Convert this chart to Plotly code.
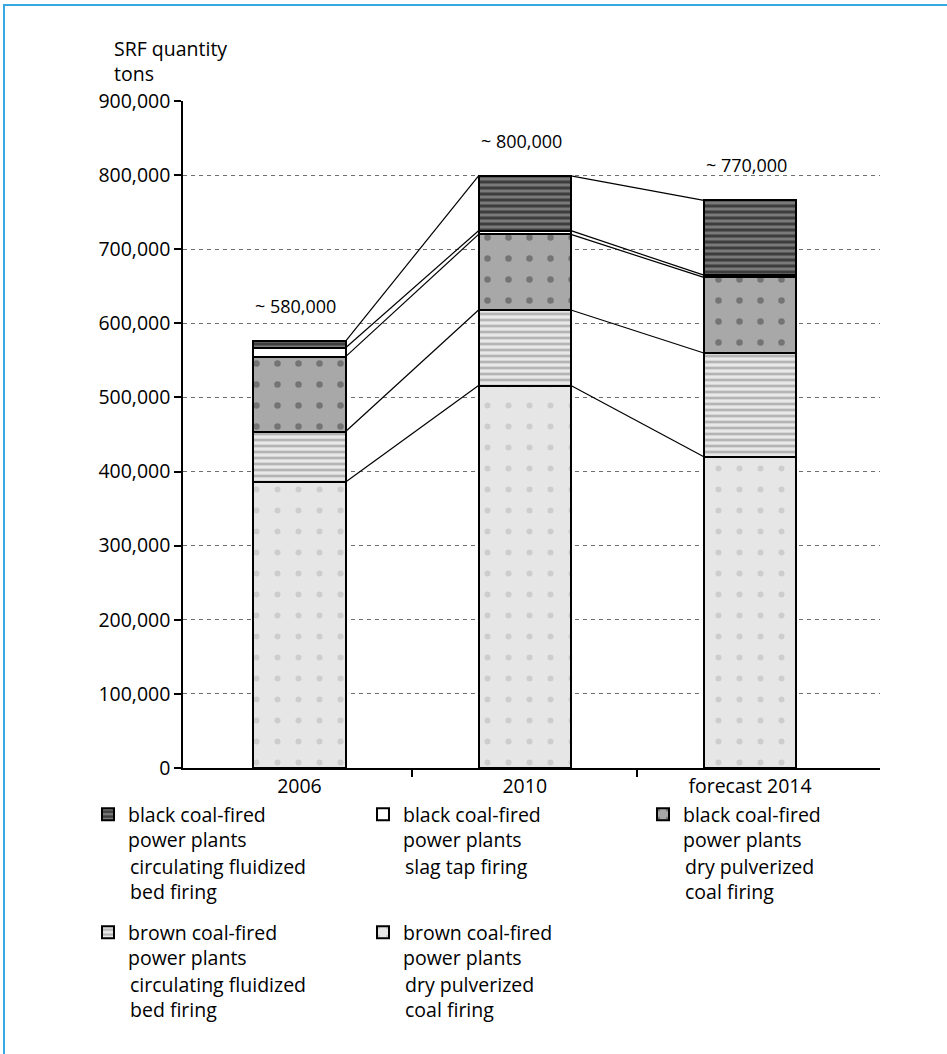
import plotly.graph_objects as go

# ---- data -------------------------------------------------------------
years = ["2006", "2010", "forecast 2014"]

brown_dry = [386000, 516000, 420000]    # brown coal, dry pulverized coal firing
brown_cfb = [68000, 102000, 140000]     # brown coal, circulating fluidized bed firing
black_dry = [101000, 102000, 102000]    # black coal, dry pulverized coal firing
black_slag = [12000, 5000, 3000]        # black coal, slag tap firing
black_cfb = [9000, 74000, 101000]       # black coal, circulating fluidized bed firing

plant_type = {
    "brown_dry": "brown coal-fired<br>power plants",
    "brown_cfb": "brown coal-fired<br>power plants",
    "black_dry": "black coal-fired<br>power plants",
    "black_slag": "black coal-fired<br>power plants",
    "black_cfb": "black coal-fired<br>power plants",
}
firing_type = {
    "brown_dry": "dry pulverized<br>coal firing",
    "brown_cfb": "circulating fluidized<br>bed firing",
    "black_dry": "dry pulverized<br>coal firing",
    "black_slag": "slag tap firing",
    "black_cfb": "circulating fluidized<br>bed firing",
}

y_ticks = [0, 100000, 200000, 300000, 400000, 500000, 600000, 700000, 800000, 900000]

# ---- page geometry (pixels) --------------------------------------------
W, H = 947, 1054
L, R, T, B = 183, 880, 101, 768
FONT = "Open Sans"
FS = 19.5


def fx(p):
    return (p - L) / (R - L)


def fy(p):
    return (B - p) / (B - T)


x_pos = list(range(len(years)))
bar_w = 0.41
x_range = [-0.517, 2.577]

series = [
    ("brown_dry", brown_dry, dict(shape=".", bgcolor="#e6e6e6", fgcolor="#b3b3b3", size=21, solidity=0.065), "legend4"),
    ("brown_cfb", brown_cfb, dict(shape="-", bgcolor="#e8e8e8", fgcolor="#808080", size=6, solidity=0.45), "legend2"),
    ("black_dry", black_dry, dict(shape=".", bgcolor="#a8a8a8", fgcolor="#404040", size=21, solidity=0.075), "legend5"),
    ("black_slag", black_slag, dict(shape="", bgcolor="#ffffff", fgcolor="#ffffff"), "legend3"),
    ("black_cfb", black_cfb, dict(shape="-", bgcolor="#7a7a7a", fgcolor="#000000", size=6, solidity=0.5), "legend"),
]

fig = go.Figure()

for key, vals, pat, leg in series:
    fig.add_trace(go.Bar(
        x=x_pos, y=vals, width=bar_w,
        name=plant_type[key],
        marker=dict(color=pat["bgcolor"], pattern=pat,
                    line=dict(color="black", width=2)),
        legend=leg, hoverinfo="skip",
    ))

# cumulative levels of every stack boundary
cum = []
for i in range(len(years)):
    run, levels = 0, []
    for _, vals, _, _ in series:
        run += vals[i]
        levels.append(run)
    cum.append(levels)

# thin connectors between neighbouring stacks
lx, ly = [], []
for i in range(len(years) - 1):
    for k in range(len(series)):
        lx += [x_pos[i] + bar_w / 2, x_pos[i + 1] - bar_w / 2, None]
        ly += [cum[i][k], cum[i + 1][k], None]
fig.add_trace(go.Scatter(x=lx, y=ly, mode="lines", line=dict(color="black", width=1.2),
                         showlegend=False, hoverinfo="skip"))

annotations = []
# totals above the stacks
for i in range(len(years)):
    total = cum[i][-1]
    annotations.append(dict(
        x=x_pos[i] - bar_w / 2, y=total, xref="x", yref="y",
        text="~ {:,}".format(int(round(total, -4))), showarrow=False,
        xanchor="left", yanchor="middle", yshift=35,
        font=dict(family=FONT, size=18, color="black"),
    ))

# axis title
annotations.append(dict(
    x=fx(112), y=fy(61), xref="paper", yref="paper", text="SRF quantity<br>tons",
    showarrow=False, xanchor="left", yanchor="middle", align="left",
    font=dict(family=FONT, size=FS, color="black"),
))

# legend blocks: one legend per entry, firing type written underneath
legend_slots = {          # text left x, first text line centre y
    "legend": (128, 815),
    "legend3": (403, 815),
    "legend5": (683, 815),
    "legend2": (128, 933),
    "legend4": (403, 933),
}
legend_layout = {}
for key, vals, pat, leg in series:
    tx, ty = legend_slots[leg]
    legend_layout[leg] = dict(
        x=fx(tx - 40), y=fy(ty - 20), xanchor="left", yanchor="top",
        xref="paper", yref="paper", bgcolor="rgba(0,0,0,0)", borderwidth=0,
        valign="top", font=dict(family=FONT, size=FS, color="black"),
        itemclick=False, itemdoubleclick=False,
    )
    annotations.append(dict(
        x=fx(tx), y=fy(ty + 36), xref="paper", yref="paper", text=firing_type[key],
        showarrow=False, xanchor="left", yanchor="top", align="left",
        font=dict(family=FONT, size=FS, color="black"),
    ))

frame_col = "#35a9e0"
shapes = [
    dict(type="line", xref="paper", yref="paper", x0=fx(4), x1=fx(4), y0=fy(5), y1=fy(H),
         line=dict(color=frame_col, width=2)),
    dict(type="line", xref="paper", yref="paper", x0=fx(3), x1=fx(W), y0=fy(5), y1=fy(5),
         line=dict(color=frame_col, width=2)),
]

fig.update_layout(
    width=W, height=H, autosize=False,
    margin=dict(l=L, r=W - R, t=T, b=H - B, pad=0),
    paper_bgcolor="white", plot_bgcolor="white",
    barmode="stack", showlegend=True,
    font=dict(family=FONT, size=FS, color="black"),
    annotations=annotations, shapes=shapes,
    **legend_layout,
)

fig.update_xaxes(
    range=x_range, tickmode="array", tickvals=x_pos, ticktext=years, ticks="",
    showline=True, linecolor="black", linewidth=1.5, showgrid=False, zeroline=False,
    tickfont=dict(family=FONT, size=FS, color="black"),
    minor=dict(tickmode="array", tickvals=[0.5, 1.5], ticks="outside", ticklen=7,
               tickcolor="black", tickwidth=1.5, showgrid=False),
)
fig.update_yaxes(
    range=[0, 900000], tickmode="array", tickvals=y_ticks, tickformat=",d",
    ticks="outside", ticklen=7, tickcolor="black", tickwidth=1.5,
    showline=True, linecolor="black", linewidth=1.5, zeroline=False,
    showgrid=True, gridcolor="#6e6e6e", gridwidth=1, griddash="4px,4px",
    tickfont=dict(family=FONT, size=FS, color="black"),
)

fig.write_html("out.html")
